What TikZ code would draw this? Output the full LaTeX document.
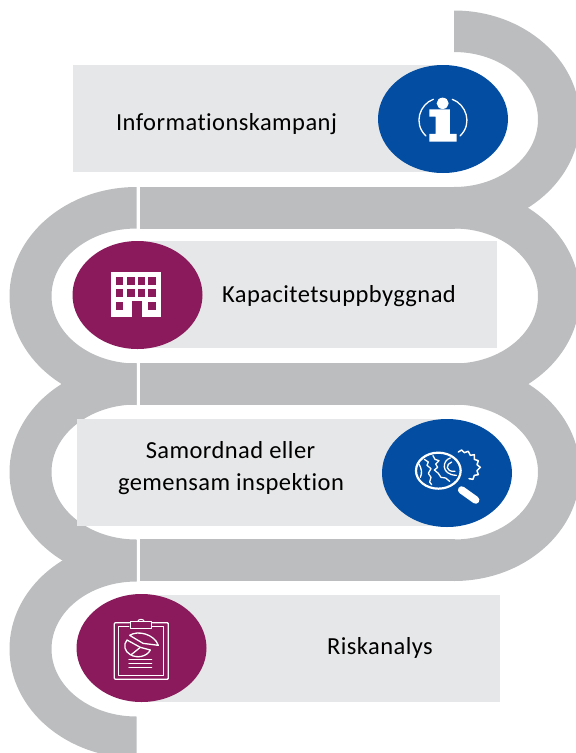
\documentclass[tikz,border=0pt]{standalone}
\usepackage{fontspec}
\setmainfont[Ligatures=NoCommon,LetterSpace=1.8]{Carlito}
\definecolor{band}{HTML}{BCBDBF}
\definecolor{panel}{HTML}{E6E7E8}
\definecolor{bluec}{HTML}{034EA2}
\definecolor{purplec}{HTML}{8A1A5C}
\newcommand\ringR[2]{%
 \fill[band] (#1,#2-109) .. controls (#1+69.6,#2-109) and (#1+126,#2-60.2) .. (#1+126,#2)
 .. controls (#1+126,#2+60.2) and (#1+69.6,#2+109) .. (#1,#2+109) -- (#1,#2+67.5)
 .. controls (#1+46.4,#2+67.5) and (#1+84,#2+37.3) .. (#1+84,#2)
 .. controls (#1+84,#2-37.3) and (#1+46.4,#2-67.5) .. (#1,#2-67.5) -- cycle;}
\newcommand\ringL[2]{%
 \fill[band] (#1,#2-109) .. controls (#1-70.1,#2-109) and (#1-127,#2-60.2) .. (#1-127,#2)
 .. controls (#1-127,#2+60.2) and (#1-70.1,#2+109) .. (#1,#2+109) -- (#1,#2+67.5)
 .. controls (#1-47,#2+67.5) and (#1-85,#2+37.3) .. (#1-85,#2)
 .. controls (#1-85,#2-37.3) and (#1-47,#2-67.5) .. (#1,#2-67.5) -- cycle;}
\tikzset{
 panelbox/.style={fill=panel},
 disc/.style={ellipse,minimum width=130pt,minimum height=108pt,inner sep=0pt},
 label/.style={anchor=base,text=black,inner sep=0pt,font=\fontsize{24.5}{29}\selectfont},
 icon/.style={draw=white,line width=1.3pt,line cap=round,line join=round},
 iconthin/.style={draw=white,line width=1pt,line cap=round,line join=round},
}
\usetikzlibrary{shapes.geometric}
\begin{document}
\begin{tikzpicture}[x=1pt,y=-1pt]
\useasboundingbox (0,0) rectangle (576,753);
\begin{scope}
\clip (0,0) rectangle (576,753);
\ringR{454}{119.5}
\ringR{454}{296}
\ringR{454}{472}
\ringL{136.5}{296}
\ringL{136.5}{472}
\ringL{136.5}{649}
\fill[band] (140,187) rectangle (454.5,229);
\fill[band] (140,363) rectangle (454.5,405);
\fill[band] (140,539) rectangle (454.5,581);
\end{scope}
% panels
\fill[panelbox] (73,65) rectangle (443,172);
\fill[panelbox] (137,241) rectangle (497,348);
\fill[panelbox] (77,419) rectangle (447,526);
\fill[panelbox] (141,595) rectangle (500,702);
% discs
\node[disc,fill=bluec] (d1) at (443,119) {};
\node[disc,fill=purplec] (d2) at (137.5,295) {};
\node[disc,fill=bluec] (d3) at (447,473) {};
\node[disc,fill=purplec] (d4) at (141.5,648) {};
% labels
\node[label] (t1) at (226.5,130) {Informationskampanj};
\node[label] (t2) at (339,302) {Kapacitetsuppbyggnad};
\node[label] (t3a) at (230.5,458) {Samordnad eller};
\node[label] (t3b) at (231,490) {gemensam inspektion};
\node[label] (t4) at (380,654) {Riskanalys};
% info icon
\begin{scope}[shift={(370,0)},x=.3333pt,y=.3333pt,yscale=-1]
\draw[icon] (190,298) .. controls (150,312) and (128,370) .. (168,408);
\draw[icon] (247,298) .. controls (287,312) and (310,370) .. (270,408);
\fill[white] (218,310) ellipse[x radius=18,y radius=17];
\fill[white] (178,328) -- (240,328) -- (240,402) -- (260,402) -- (260,425) -- (178,425) -- (178,402) -- (197,402) -- (197,350) -- (178,350) -- cycle;
\end{scope}
% building icon
\begin{scope}[shift={(100,265)},x=.3333pt,y=.3333pt,yscale=-1]
\fill[white] (33,20) rectangle (182,157);
\foreach \cx/\cw in {49/21,81/23,113/23,145/23} {
 \fill[purplec] (\cx,35) rectangle (\cx+\cw,60);
 \fill[purplec] (\cx,72) rectangle (\cx+\cw,97);
}
\fill[purplec] (49,110) rectangle (70,136);
\fill[purplec] (145,110) rectangle (168,136);
\fill[purplec] (96,107) rectangle (125,157);
\end{scope}
% magnifier icon
\begin{scope}[shift={(405,440)},x=.3333pt,y=.3333pt,yscale=-1]
\draw[icon,line width=1.5pt] (160,36) -- (170,30) -- (178,38) -- (190,34) -- (196,46) -- (208,44) -- (208,58) -- (220,62) -- (216,74) -- (226,82) -- (216,92) -- (220,104) -- (208,106) -- (204,118) -- (192,116);
\draw[icon,line width=2.2pt] (100,92) ellipse[x radius=67,y radius=54];
\draw[icon,line width=7.5pt] (170,150) -- (212,180);
\draw[icon] (84,47) -- (90,58) -- (102,62) -- (92,72) -- (98,82) -- (88,90) -- (100,100) -- (108,112) -- (122,114) -- (134,124);
\draw[icon] (58,58) -- (70,66) -- (66,76) -- (78,86) -- (70,100) -- (78,112) -- (74,126) -- (80,134);
\draw[icon] (42,72) .. controls (50,86) and (52,100) .. (46,112);
\draw[icon] (136,54) .. controls (112,60) and (106,104) .. (154,106);
\draw[icon] (140,66) .. controls (122,72) and (120,96) .. (150,94);
\end{scope}
% clipboard icon
\begin{scope}[shift={(105,610)},x=.3333pt,y=.3333pt,yscale=-1]
\draw[icon,rounded corners=1pt] (74,38) -- (28,38) -- (28,208) -- (190,208) -- (190,38) -- (142,38);
\draw[iconthin] (72,50) -- (41,50) -- (41,196) -- (176,196) -- (176,50) -- (142,50);
\draw[icon] (76,34) rectangle (140,56);
\draw[iconthin] (98,34) .. controls (102,26) and (114,26) .. (118,34);
\draw[icon] (66,90) .. controls (54,104) and (58,124) .. (76,134) .. controls (96,146) and (126,140) .. (136,120) -- (106,112) -- cycle;
\draw[icon] (106,112) -- (80,133);
\draw[icon] (74,76) .. controls (98,60) and (148,72) .. (160,106) -- (114,100) -- cycle;
\draw[icon] (72,148) -- (140,148);
\draw[icon] (72,160) -- (140,160);
\draw[icon] (72,172) -- (140,172);
\end{scope}
\end{tikzpicture}
\end{document}
